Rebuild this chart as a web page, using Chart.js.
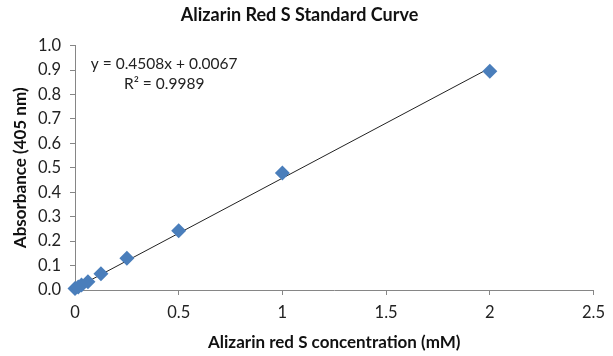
<!DOCTYPE html>
<html>
<head>
<meta charset="utf-8">
<script src="https://cdn.jsdelivr.net/npm/chart.js@4"></script>
<style>
  html, body { margin: 0; padding: 0; background: #fff; }
  #wrap { width: 613px; height: 356px; }
</style>
</head>
<body>
<div id="wrap"><canvas id="curveChart" width="613" height="356"></canvas></div>
<script>
// standard curve data
const concentrations = [0, 0.015625, 0.03125, 0.0625, 0.125, 0.25, 0.5, 1, 2];
const absorbance = [0.006, 0.012, 0.02, 0.034, 0.067, 0.13, 0.242, 0.479, 0.895];

// linear fit shown on the chart
const slope = 0.4508;
const intercept = 0.0067;
const rSquared = 0.9989;
const fitRange = [0, 2];

const fontFamily = "Lato, 'Liberation Sans', sans-serif";
const axisGrey = '#868686';

const equationLabel = {
    id: 'equationLabel',
    afterDraw(chart) {
        const ctx = chart.ctx;
        const x = chart.scales.x.getPixelForValue(0.43);
        const y = chart.scales.y.getPixelForValue(0.925);
        ctx.save();
        ctx.fillStyle = '#222';
        ctx.font = '15.5px ' + fontFamily;
        ctx.textAlign = 'center';
        ctx.textBaseline = 'middle';
        ctx.fillText('y = ' + slope + 'x + ' + intercept, x, y);
        ctx.fillText('R\u00B2 = ' + rSquared, x, y + 20);
        ctx.restore();
    }
};

const ctx = document.getElementById('curveChart').getContext('2d');
const curveChart = new Chart(ctx, {
    type: 'scatter',
    data: {
        datasets: [{
            label: 'Linear fit',
            data: fitRange.map(x => ({ x: x, y: slope * x + intercept })),
            showLine: true,
            borderColor: '#222',
            borderWidth: 1,
            pointRadius: 0,
            order: 2
        }, {
            label: 'Absorbance',
            data: concentrations.map((c, i) => ({ x: c, y: absorbance[i] })),
            pointStyle: 'rectRot',
            pointRadius: 7.5,
            backgroundColor: '#4a7ebb',
            borderColor: '#4a7ebb',
            borderWidth: 0,
            clip: false,
            order: 1
        }]
    },
    options: {
        responsive: false,
        animation: false,
        layout: { padding: { left: 0, right: 14, top: 0, bottom: 0 } },
        plugins: {
            legend: { display: false },
            tooltip: { enabled: false },
            title: {
                display: true,
                text: 'Alizarin Red S Standard Curve',
                color: '#111',
                font: { family: fontFamily, size: 18, weight: 'bold' },
                padding: { top: 4, bottom: 20 }
            }
        },
        scales: {
            x: {
                type: 'linear',
                min: 0,
                max: 2.5,
                afterFit: (scale) => { scale.height = 66; },
                grid: { drawOnChartArea: false, drawTicks: true, tickLength: 5, color: axisGrey },
                border: { display: true, color: axisGrey },
                ticks: {
                    stepSize: 0.5,
                    padding: 8,
                    color: '#222',
                    font: { family: fontFamily, size: 16.5 },
                    callback: (v) => String(v)
                },
                title: {
                    display: true,
                    text: 'Alizarin red S concentration (mM)',
                    color: '#111',
                    font: { family: fontFamily, size: 17, weight: 'bold' },
                    padding: { top: 4, bottom: 3 }
                }
            },
            y: {
                type: 'linear',
                min: 0,
                max: 1,
                afterFit: (scale) => { scale.width = 75; },
                grid: { drawOnChartArea: false, drawTicks: true, tickLength: 5, color: axisGrey },
                border: { display: true, color: axisGrey },
                ticks: {
                    stepSize: 0.1,
                    padding: 9,
                    color: '#222',
                    font: { family: fontFamily, size: 16.5 },
                    callback: (v) => Number(v).toFixed(1)
                },
                title: {
                    display: true,
                    text: 'Absorbance (405 nm)',
                    color: '#111',
                    font: { family: fontFamily, size: 17, weight: 'bold' },
                    padding: { top: 10, bottom: 4 }
                }
            }
        }
    },
    plugins: [equationLabel]
});
</script>
</body>
</html>
